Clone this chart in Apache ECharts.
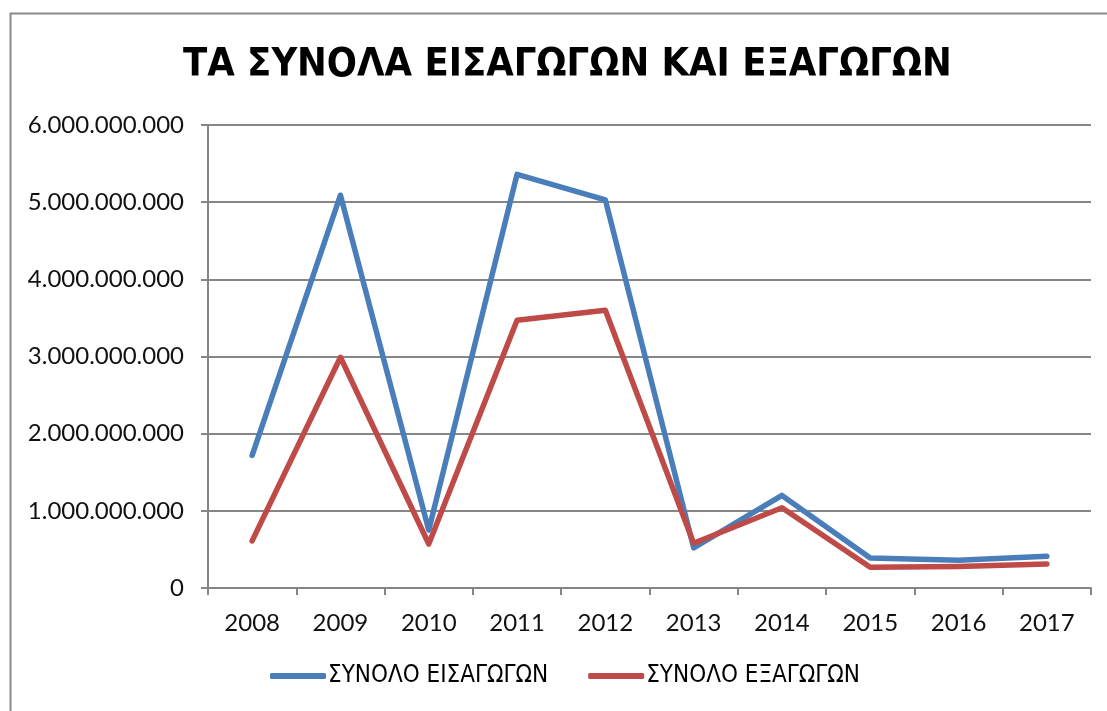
<!DOCTYPE html>
<html>
<head>
<meta charset="utf-8">
<script src="https://cdn.jsdelivr.net/npm/echarts@6/dist/echarts.min.js"></script>
<style>
  html, body { margin: 0; padding: 0; background: #fff; }
  #chart { width: 1107px; height: 711px; }
</style>
</head>
<body>
<div id="chart"></div>
<script>
// years on x axis
const years = ['2008', '2009', '2010', '2011', '2012', '2013', '2014', '2015', '2016', '2017']
// values
const imports = [1720000000, 5090000000, 750000000, 5360000000, 5030000000, 520000000, 1200000000, 390000000, 360000000, 410000000]
const exports = [610000000, 2990000000, 570000000, 3470000000, 3600000000, 580000000, 1040000000, 270000000, 280000000, 310000000]

const fmt = v => String(v).replace(/\B(?=(\d{3})+(?!\d))/g, '.')

let chart = echarts.init(document.getElementById('chart'))
chart.setOption({
    animation: false,
    backgroundColor: '#fff',
    title: {
        text: 'ΤΑ ΣΥΝΟΛΑ ΕΙΣΑΓΩΓΩΝ ΚΑΙ ΕΞΑΓΩΓΩΝ',
        left: 178, top: 41,
        textStyle: {fontFamily: 'DejaVu Sans Condensed', fontWeight: 'bold', fontSize: 39.5, color: '#000'}
    },
    graphic: [{
        type: 'rect', shape: {x: 10.5, y: 13.5, width: 1120, height: 720},
        style: {fill: 'none', stroke: '#8a8a8a', lineWidth: 2}
    }],
    legend: {
        bottom: 18, left: 265, itemGap: 40, itemWidth: 56, itemHeight: 6,
        icon: 'roundRect',
        textStyle: {fontFamily: 'DejaVu Sans Condensed', fontSize: 24, color: '#000', padding: [0, 0, 0, -3]},
        data: ['ΣΥΝΟΛΟ ΕΙΣΑΓΩΓΩΝ', 'ΣΥΝΟΛΟ ΕΞΑΓΩΓΩΝ']
    },
    grid: {left: 208, right: 16, top: 125, bottom: 123},
    xAxis: {
        type: 'category', data: years, boundaryGap: true,
        axisLine: {lineStyle: {color: '#868686', width: 2}},
        axisTick: {show: true, length: 7, lineStyle: {color: '#868686', width: 2}},
        axisLabel: {fontFamily: 'Lato', fontSize: 24, color: '#111', margin: 23}
    },
    yAxis: {
        type: 'value', min: 0, max: 6000000000, interval: 1000000000,
        axisLine: {show: true, lineStyle: {color: '#868686', width: 2}},
        axisTick: {show: true, length: 7, lineStyle: {color: '#868686', width: 2}},
        splitLine: {lineStyle: {color: '#868686', width: 2}},
        axisLabel: {fontFamily: 'Lato', fontSize: 24, color: '#111', margin: 24, formatter: fmt}
    },
    series: [
        {
            name: 'ΣΥΝΟΛΟ ΕΙΣΑΓΩΓΩΝ', type: 'line', data: imports,
            symbol: 'none', color: '#4A7EBB',
            lineStyle: {width: 5.5, color: '#4A7EBB', cap: 'round', join: 'round'}
        },
        {
            name: 'ΣΥΝΟΛΟ ΕΞΑΓΩΓΩΝ', type: 'line', data: exports,
            symbol: 'none', color: '#BE4B48',
            lineStyle: {width: 5.5, color: '#BE4B48', cap: 'round', join: 'round'}
        }
    ]
})
</script>
</body>
</html>
